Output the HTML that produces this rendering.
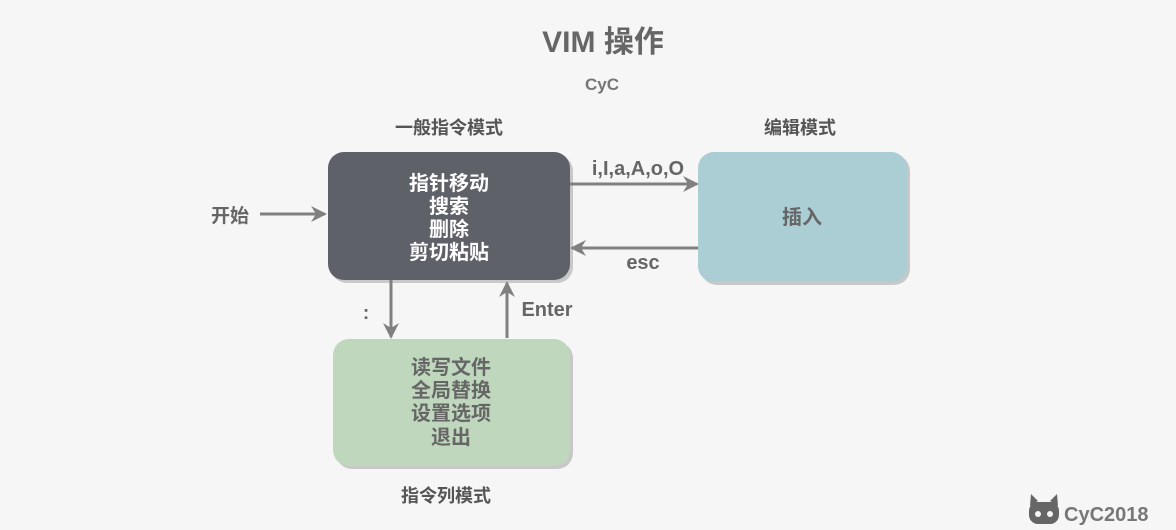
<!DOCTYPE html>
<html><head><meta charset="utf-8"><style>
html,body{margin:0;background:#f6f6f6;overflow:hidden}
svg{display:block}
svg text{font-family:"Liberation Sans","Noto Sans CJK SC",sans-serif;font-weight:bold}
</style></head><body>
<svg width="1176" height="530" viewBox="0 0 1176 530" xmlns="http://www.w3.org/2000/svg">
<rect width="1176" height="530" fill="#f6f6f6"/>
<defs>
<marker id="b" markerWidth="16" markerHeight="16" refX="14" refY="8" orient="auto" markerUnits="userSpaceOnUse"><path d="M0,0 L16,8 L0,16 L5,8 Z" fill="#808080"/></marker></defs>
<text x="603" y="52" text-anchor="middle" font-size="30" fill="#666">VIM 操作</text>
<text x="602" y="90" text-anchor="middle" font-size="17" fill="#777">CyC</text>
<text x="449" y="134" text-anchor="middle" font-size="18" fill="#555">一般指令模式</text>
<text x="800" y="134" text-anchor="middle" font-size="18" fill="#555">编辑模式</text>
<text x="446" y="502" text-anchor="middle" font-size="18" fill="#555">指令列模式</text>
<rect x="331" y="155" width="242" height="128" rx="16" fill="#c8c8c8"/>
<rect x="328" y="152" width="242" height="128" rx="16" fill="#5f6169"/>
<rect x="701" y="155" width="209" height="130" rx="16" fill="#c8c8c8"/>
<rect x="698" y="152" width="209" height="130" rx="16" fill="#abcdd4"/>
<rect x="336" y="342" width="237" height="127" rx="16" fill="#c8c8c8"/>
<rect x="333" y="339" width="237" height="127" rx="16" fill="#bfd8bd"/>
<g font-size="20" fill="#fff" text-anchor="middle"><text x="449" y="190">指针移动</text><text x="449" y="213">搜索</text><text x="449" y="236">删除</text><text x="449" y="259">剪切粘贴</text></g>
<text x="802" y="224" text-anchor="middle" font-size="20" fill="#666">插入</text>
<g font-size="20" fill="#666" text-anchor="middle"><text x="451" y="374">读写文件</text><text x="451" y="397">全局替换</text><text x="451" y="420">设置选项</text><text x="451" y="444">退出</text></g>
<g stroke="#808080" stroke-width="3" fill="none">
<line x1="260" y1="214" x2="325" y2="214" marker-end="url(#b)"/>
<line x1="570" y1="184" x2="697" y2="184" marker-end="url(#b)"/>
<line x1="698" y1="248" x2="572" y2="248" marker-end="url(#b)"/>
<line x1="391" y1="280" x2="391" y2="337" marker-end="url(#b)"/>
<line x1="507" y1="338" x2="507" y2="283" marker-end="url(#b)"/>
</g>
<text x="230" y="222" text-anchor="middle" font-size="19" fill="#666">开始</text>
<text x="638" y="175" text-anchor="middle" font-size="20" fill="#666">i,I,a,A,o,O</text>
<text x="643" y="269" text-anchor="middle" font-size="20" fill="#666">esc</text>
<text x="547" y="316" text-anchor="middle" font-size="20" fill="#666">Enter</text>
<text x="366" y="319" text-anchor="middle" font-size="19" fill="#666">:</text>
<g fill="#666"><rect x="1029" y="502" width="30" height="22" rx="9"/><path d="M1030,506 L1031,494 L1038,501 Z M1058,506 L1057,494 L1050,501 Z"/>
<circle cx="1038" cy="514" r="3" fill="#f6f6f6"/><circle cx="1050" cy="514" r="3" fill="#f6f6f6"/></g>
<text x="1064" y="521" font-size="20" fill="#777" font-weight="normal">CyC2018</text>
</svg>
</body></html>
